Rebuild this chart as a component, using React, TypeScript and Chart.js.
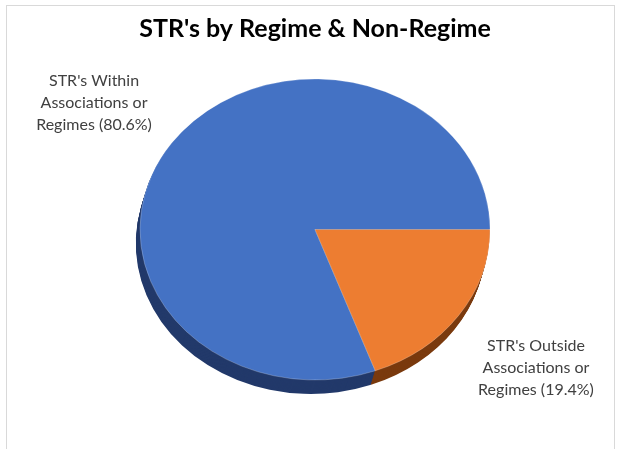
import React, { useEffect, useRef } from "react";
import { Chart, registerables } from "chart.js";

Chart.register(...registerables);

const categories = [
  ["STR's Within", "Associations or", "Regimes (80.6%)"],
  ["STR's Outside", "Associations or", "Regimes (19.4%)"],
];
const values = [80.6, 19.4];
const colors = ["#4472C4", "#ED7D31"];
const depthColors = ["#22396A", "#7A3A0E"];
const titleText = "STR's by Regime & Non-Regime";

const TILT = 0.86; // vertical squash for the tilted pie
const DEPTH = 14;
const LABEL_K = 1.54;

const pie3dPlugin = {
  id: "pie3d",
  beforeDatasetsDraw(chart: any) {
    const meta = chart.getDatasetMeta(0);
    if (!meta.data.length) return;
    const ctx = chart.ctx;
    const first = meta.data[0];
    const cx = first.x;
    const cy = first.y;
    for (let d = DEPTH; d >= 1; d--) {
      ctx.save();
      ctx.translate(cx - d * 0.3, cy + d);
      ctx.scale(1, TILT);
      meta.data.forEach((arc: any, i: number) => {
        ctx.beginPath();
        ctx.moveTo(0, 0);
        ctx.arc(0, 0, arc.outerRadius, arc.startAngle, arc.endAngle);
        ctx.closePath();
        ctx.fillStyle = depthColors[i];
        ctx.fill();
      });
      ctx.restore();
    }
    ctx.save();
    ctx.translate(cx, cy);
    ctx.scale(1, TILT);
    ctx.translate(-cx, -cy);
  },
  afterDatasetsDraw(chart: any) {
    const meta = chart.getDatasetMeta(0);
    if (!meta.data.length) return;
    chart.ctx.restore();
  },
  afterDraw(chart: any) {
    const meta = chart.getDatasetMeta(0);
    const ctx = chart.ctx;
    ctx.save();
    ctx.font = "16px Lato, 'Open Sans', sans-serif";
    ctx.fillStyle = "#404040";
    ctx.textAlign = "center";
    ctx.textBaseline = "middle";
    meta.data.forEach((arc: any, i: number) => {
      const mid = (arc.startAngle + arc.endAngle) / 2;
      const r = arc.outerRadius * LABEL_K;
      const x = arc.x + Math.cos(mid) * r;
      const y = arc.y + Math.sin(mid) * r * TILT + 6;
      const lines = categories[i];
      const lh = 22;
      lines.forEach((ln, j) => {
        ctx.fillText(ln, x, y + (j - (lines.length - 1) / 2) * lh);
      });
    });
    ctx.restore();
  },
};

export default function App() {
  const ref = useRef<HTMLCanvasElement>(null);
  useEffect(() => {
    document.body.style.margin = "0";
    const total = values.reduce((a, b) => a + b, 0);
    const chart = new Chart(ref.current!, {
      type: "pie",
      data: {
        labels: categories.map((c) => c.join(" ")),
        datasets: [
          {
            data: values,
            backgroundColor: colors,
            borderColor: "rgba(255,255,255,0.25)",
            borderWidth: 1,
          },
        ],
      },
      options: {
        animation: false,
        responsive: false,
        rotation: 90 + (values[1] / total) * 360,
        layout: { padding: { left: 138, right: 126, top: 0, bottom: 44 } },
        plugins: {
          legend: { display: false },
          tooltip: { enabled: false },
          title: {
            display: true,
            text: titleText,
            color: "#000000",
            font: { family: "Lato, 'Open Sans', sans-serif", size: 25, weight: "bold" },
            padding: { top: 14, bottom: 10 },
          },
        },
      },
      plugins: [pie3dPlugin],
    });
    return () => chart.destroy();
  }, []);
  return (
    <div style={{ position: "relative", width: 618, height: 449, overflow: "hidden", background: "#fff" }}>
      <div
        style={{
          position: "absolute",
          left: 6,
          top: 5,
          width: 609,
          height: 460,
          border: "1px solid #D9D9D9",
          boxSizing: "border-box",
        }}
      />
      <canvas ref={ref} width={618} height={449} style={{ position: "absolute", left: 0, top: 0 }} />
    </div>
  );
}
